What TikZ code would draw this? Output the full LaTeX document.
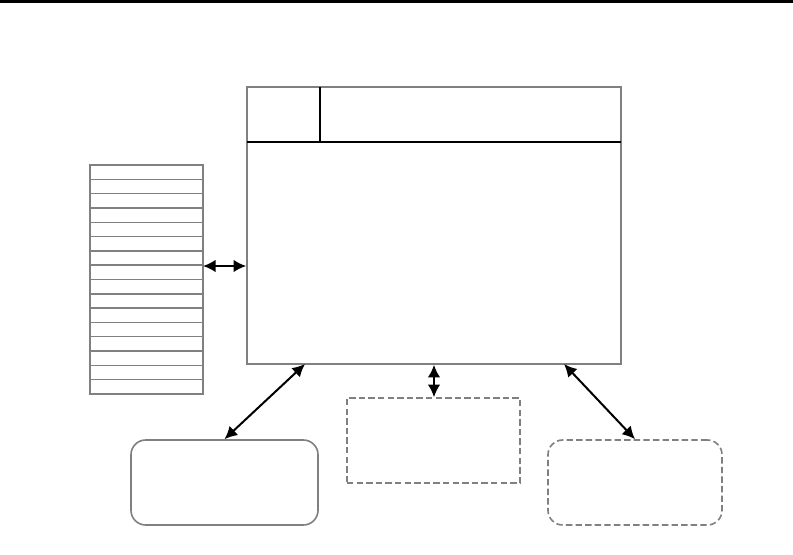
\documentclass[tikz,border=0pt]{standalone}
\usepackage{tikz}
\usetikzlibrary{arrows.meta,positioning,fit}

\begin{document}
\begin{tikzpicture}[
  x=0.75pt,y=-0.75pt,
  frame/.style={draw=black!50,line width=1.2pt,inner sep=0pt},
  cell/.style={frame,line width=1.1pt},
  soft/.style={frame,rounded corners=11pt},
  dashbox/.style={frame,dash pattern=on 4.8pt off 2.4pt},
  rule/.style={draw=black,line width=1.6pt},
  dbl/.style={{Latex[length=9.5pt,width=9.5pt]}-{Latex[length=9.5pt,width=9.5pt]},line width=1.5pt}
]
\useasboundingbox (0,0) rectangle (793,554);
% ---------- top rule ----------
\coordinate (topl) at (0,1.2);
\coordinate (topr) at (793,1.2);
\draw[line width=2.2pt] (topl) -- (topr);
% ---------- main box ----------
\node[frame,fit={(247,87) (621,364)}] (main) {};
\coordinate (hdl) at (247,142);
\coordinate (hdr) at (621,142);
\coordinate (hdv) at (320,87);
\draw[rule] (hdl) -- (hdr);
\draw[rule] (hdv) -- (hdv |- hdl);
% ---------- stack ----------
\foreach \i in {0,...,15}
  \node[cell,fit={(90,165+14.31*\i) (203,165+14.31*\i+14.31)}] (cell\i) {};
\node[inner sep=0pt,fit=(cell0) (cell15)] (stack) {};
% ---------- lower boxes ----------
\node[soft,fit={(131,440) (318,525)}] (lbox) {};
\node[dashbox,fit={(347,398) (520,483)}] (dbox) {};
\node[soft,dashbox,fit={(548,440) (722,525)}] (rbox) {};
% ---------- connectors ----------
\coordinate (lnk) at (203,266);
\coordinate (ml) at (305,364);
\coordinate (mr) at (564,364);
\draw[dbl] (lnk) -- (lnk -| main.west);
\draw[dbl] (lbox.north) -- (ml);
\draw[dbl] (main.south) -- (main.south |- dbox.north);
\draw[dbl] (mr) -- (rbox.north);
\end{tikzpicture}
\end{document}
